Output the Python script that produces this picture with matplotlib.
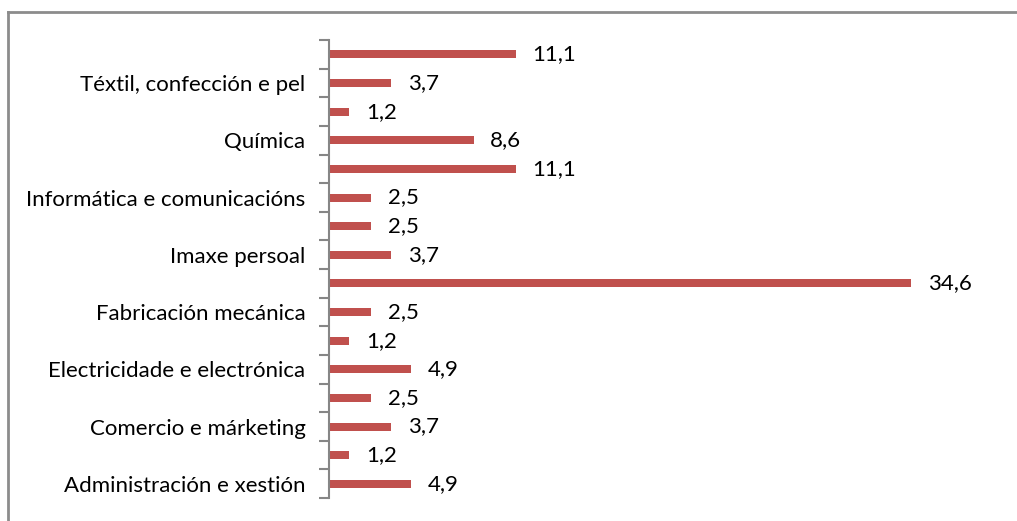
import matplotlib
matplotlib.use("Agg")
import matplotlib.pyplot as plt
from matplotlib.lines import Line2D
import numpy as np

plt.rcParams['font.family'] = ['Lato', 'DejaVu Sans']

# categorías de abaixo para arriba (só se amosa unha de cada dúas)
familias = ["Administración e xestión", "Artes gráficas", "Comercio e márketing",
            "Edificación e obra civil", "Electricidade e electrónica", "Enerxía e auga",
            "Fabricación mecánica", "Hostalaría e turismo", "Imaxe persoal",
            "Industrias alimentarias", "Informática e comunicacións",
            "Instalación e mantemento", "Química", "Servizos socioculturais",
            "Téxtil, confección e pel", "Transporte e mantemento de vehículos"]
valores = [4.9, 1.2, 3.7, 2.5, 4.9, 1.2, 2.5, 34.6, 3.7, 2.5, 2.5, 11.1, 8.6, 1.2, 3.7, 11.1]

fig = plt.figure(figsize=(10.17, 5.21), dpi=100)
ax = fig.add_axes([0.3235, 0.044, 0.6615, 0.879])

y = np.arange(len(valores))
ax.barh(y, valores, height=0.28, color="#C0504D")
for yi, v in zip(y, valores):
    ax.annotate(f"{v:.1f}".replace(".", ","), (v, yi), xytext=(12, 0),
                textcoords="offset points", va="center", ha="left", fontsize=16)

ax.set_ylim(-0.5, len(valores) - 0.5)
ax.set_xlim(0, 40)
ax.set_yticks(y)
ax.set_yticklabels([f if i % 2 == 0 else "" for i, f in enumerate(familias)], fontsize=16)
ax.set_yticks(np.arange(-0.5, len(valores), 1), minor=True)
ax.tick_params(axis="y", which="major", length=0, pad=17)
ax.tick_params(axis="y", which="minor", length=7, width=1.5, color="#868686")
ax.set_xticks([])
for s in ["top", "right", "bottom"]:
    ax.spines[s].set_visible(False)
ax.spines["left"].set_color("#868686")
ax.spines["left"].set_linewidth(1.5)

# marco exterior
fig.add_artist(Line2D([0.008, 0.008], [0, 0.977], color="#8c8c8c", lw=2))
fig.add_artist(Line2D([0.008, 1.0], [0.977, 0.977], color="#8c8c8c", lw=2))

fig.savefig("out.png", dpi=100)
